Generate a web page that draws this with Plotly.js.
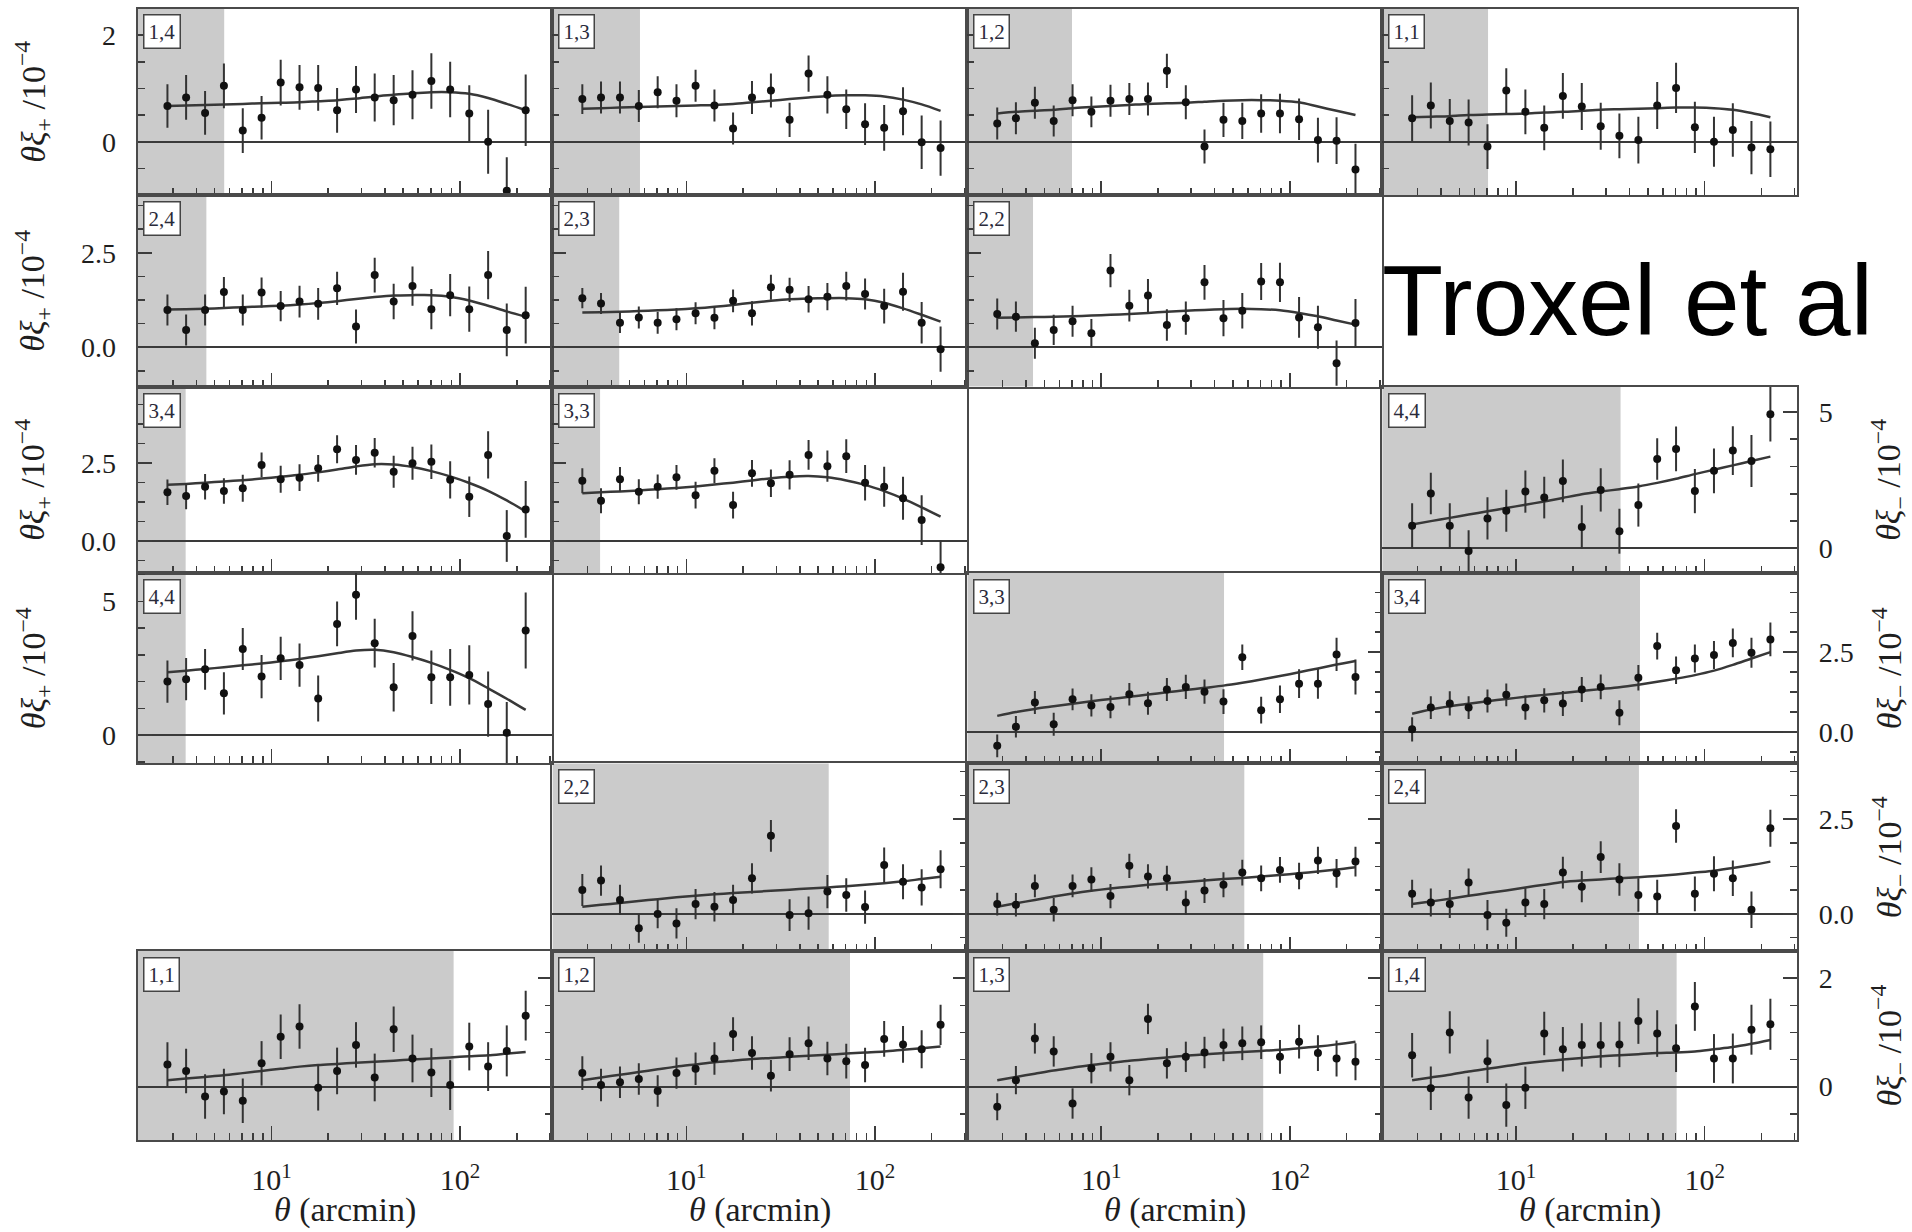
<!DOCTYPE html>
<html>
<head>
<meta charset="utf-8">
<script src="https://cdn.plot.ly/plotly-3.0.1.min.js"></script>
<style>
  html, body { margin: 0; padding: 0; background: #ffffff; }
  #chart { width: 1912px; height: 1232px; }
</style>
</head>
<body>
<div id="chart"></div>
<script>
// Angular bin centres (arcmin), shared by every panel
const theta = [2.81, 3.53, 4.45, 5.60, 7.05, 8.87, 11.2, 14.1, 17.7, 22.3,
               28.1, 35.3, 44.5, 56.0, 70.5, 88.7, 112, 141, 177, 223];

// ---- xi_plus: measurements, 1-sigma errors and best-fit model (units of 1e-4, times theta) ----
const xiP_14  = [0.67, 0.83, 0.54, 1.05, 0.21, 0.45, 1.11, 1.02, 1.01, 0.59, 0.98, 0.83, 0.78, 0.88, 1.14, 0.98, 0.53, 0.00, -0.92, 0.59];
const errP_14 = [0.41, 0.42, 0.41, 0.42, 0.42, 0.41, 0.43, 0.42, 0.43, 0.42, 0.44, 0.45, 0.47, 0.46, 0.52, 0.52, 0.53, 0.60, 0.63, 0.67];
const modP_14 = [0.67, 0.68, 0.69, 0.70, 0.71, 0.72, 0.73, 0.74, 0.76, 0.78, 0.81, 0.85, 0.88, 0.91, 0.93, 0.93, 0.90, 0.82, 0.71, 0.59];

const xiP_13  = [0.80, 0.83, 0.83, 0.67, 0.93, 0.77, 1.05, 0.68, 0.25, 0.83, 0.96, 0.41, 1.28, 0.88, 0.61, 0.33, 0.26, 0.57, -0.01, -0.12];
const errP_13 = [0.28, 0.30, 0.30, 0.30, 0.30, 0.31, 0.30, 0.30, 0.30, 0.31, 0.32, 0.32, 0.34, 0.35, 0.37, 0.39, 0.43, 0.45, 0.50, 0.52];
const modP_13 = [0.62, 0.63, 0.64, 0.65, 0.66, 0.67, 0.68, 0.69, 0.71, 0.74, 0.77, 0.80, 0.83, 0.86, 0.87, 0.87, 0.85, 0.79, 0.70, 0.58];

const xiP_12  = [0.34, 0.44, 0.73, 0.39, 0.78, 0.56, 0.77, 0.80, 0.80, 1.33, 0.74, -0.09, 0.41, 0.39, 0.53, 0.53, 0.42, 0.03, 0.02, -0.52];
const errP_12 = [0.30, 0.30, 0.30, 0.29, 0.30, 0.29, 0.30, 0.30, 0.31, 0.32, 0.32, 0.32, 0.32, 0.34, 0.36, 0.37, 0.39, 0.42, 0.44, 0.48];
const modP_12 = [0.53, 0.56, 0.58, 0.60, 0.63, 0.65, 0.67, 0.69, 0.71, 0.72, 0.73, 0.75, 0.77, 0.78, 0.78, 0.77, 0.74, 0.66, 0.58, 0.50];

const xiP_11  = [0.44, 0.68, 0.39, 0.36, -0.09, 0.96, 0.56, 0.26, 0.86, 0.66, 0.29, 0.11, 0.03, 0.68, 1.01, 0.27, 0.00, 0.22, -0.11, -0.14];
const errP_11 = [0.43, 0.43, 0.41, 0.43, 0.42, 0.42, 0.42, 0.42, 0.43, 0.44, 0.44, 0.42, 0.44, 0.44, 0.47, 0.48, 0.47, 0.50, 0.50, 0.52];
const modP_11 = [0.46, 0.47, 0.48, 0.50, 0.51, 0.52, 0.53, 0.55, 0.56, 0.58, 0.60, 0.61, 0.62, 0.63, 0.64, 0.64, 0.63, 0.60, 0.54, 0.46];

const xiP_24  = [0.99, 0.46, 0.99, 1.46, 0.99, 1.45, 1.09, 1.21, 1.15, 1.56, 0.55, 1.91, 1.21, 1.62, 1.01, 1.38, 1.01, 1.91, 0.46, 0.85];
const errP_24 = [0.41, 0.41, 0.41, 0.40, 0.41, 0.40, 0.40, 0.42, 0.42, 0.44, 0.45, 0.46, 0.47, 0.52, 0.53, 0.56, 0.60, 0.64, 0.70, 0.75];
const modP_24 = [1.00, 1.01, 1.02, 1.04, 1.06, 1.08, 1.10, 1.13, 1.17, 1.22, 1.28, 1.33, 1.37, 1.38, 1.38, 1.34, 1.24, 1.10, 0.95, 0.81];

const xiP_23  = [1.30, 1.16, 0.65, 0.79, 0.65, 0.74, 0.90, 0.78, 1.23, 0.90, 1.59, 1.52, 1.27, 1.34, 1.62, 1.41, 1.09, 1.47, 0.65, -0.05];
const errP_23 = [0.27, 0.28, 0.27, 0.29, 0.29, 0.29, 0.29, 0.30, 0.30, 0.32, 0.33, 0.32, 0.35, 0.36, 0.38, 0.41, 0.46, 0.50, 0.55, 0.60];
const modP_23 = [0.92, 0.93, 0.94, 0.96, 0.98, 1.00, 1.03, 1.07, 1.12, 1.18, 1.23, 1.27, 1.29, 1.30, 1.30, 1.27, 1.18, 1.03, 0.86, 0.68];

const xiP_22  = [0.88, 0.81, 0.11, 0.46, 0.69, 0.37, 2.03, 1.10, 1.37, 0.59, 0.77, 1.72, 0.77, 0.97, 1.74, 1.72, 0.79, 0.53, -0.42, 0.64];
const errP_22 = [0.41, 0.40, 0.41, 0.40, 0.41, 0.38, 0.44, 0.42, 0.44, 0.42, 0.44, 0.46, 0.48, 0.47, 0.49, 0.52, 0.54, 0.57, 0.60, 0.64];
const modP_22 = [0.78, 0.79, 0.80, 0.81, 0.82, 0.84, 0.86, 0.88, 0.91, 0.94, 0.97, 0.99, 1.01, 1.02, 1.01, 0.98, 0.91, 0.82, 0.71, 0.60];

const xiP_34  = [1.56, 1.44, 1.74, 1.60, 1.69, 2.44, 1.98, 2.03, 2.33, 2.94, 2.60, 2.83, 2.22, 2.49, 2.54, 1.96, 1.42, 2.76, 0.16, 1.01];
const errP_34 = [0.41, 0.42, 0.41, 0.41, 0.43, 0.40, 0.43, 0.43, 0.43, 0.45, 0.48, 0.47, 0.51, 0.53, 0.55, 0.60, 0.65, 0.76, 0.83, 0.91];
const modP_34 = [1.80, 1.83, 1.87, 1.91, 1.95, 2.00, 2.06, 2.12, 2.20, 2.29, 2.39, 2.46, 2.45, 2.37, 2.24, 2.07, 1.86, 1.61, 1.30, 0.95];

const xiP_33  = [1.93, 1.29, 1.98, 1.58, 1.74, 2.04, 1.47, 2.25, 1.15, 2.17, 1.85, 2.12, 2.76, 2.40, 2.72, 1.87, 1.74, 1.37, 0.67, -0.84];
const errP_33 = [0.40, 0.40, 0.39, 0.40, 0.39, 0.40, 0.43, 0.40, 0.43, 0.43, 0.44, 0.47, 0.48, 0.50, 0.54, 0.57, 0.64, 0.69, 0.80, 0.85];
const modP_33 = [1.53, 1.56, 1.59, 1.62, 1.66, 1.70, 1.75, 1.81, 1.87, 1.94, 2.01, 2.06, 2.08, 2.04, 1.94, 1.80, 1.60, 1.36, 1.08, 0.78];

const xiP_44  = [2.00, 2.09, 2.46, 1.56, 3.22, 2.19, 2.87, 2.62, 1.37, 4.16, 5.25, 3.44, 1.79, 3.71, 2.16, 2.16, 2.25, 1.16, 0.09, 3.91];
const errP_44 = [0.79, 0.79, 0.76, 0.79, 0.79, 0.81, 0.81, 0.81, 0.86, 0.84, 0.94, 0.91, 0.91, 0.92, 1.00, 1.06, 1.11, 1.22, 1.15, 1.42];
const modP_44 = [2.35, 2.41, 2.47, 2.54, 2.61, 2.68, 2.76, 2.85, 2.95, 3.06, 3.16, 3.19, 3.10, 2.92, 2.70, 2.44, 2.13, 1.75, 1.36, 0.94];

// ---- xi_minus ----
const xiM_44  = [0.83, 2.01, 0.83, -0.09, 1.10, 1.38, 2.08, 1.86, 2.47, 0.79, 2.14, 0.63, 1.59, 3.27, 3.64, 2.10, 2.84, 3.58, 3.20, 4.91];
const errM_44 = [0.82, 0.76, 0.82, 0.76, 0.77, 0.77, 0.77, 0.76, 0.78, 0.79, 0.79, 0.82, 0.79, 0.76, 0.82, 0.81, 0.82, 0.89, 0.95, 1.00];
const modM_44 = [0.88, 1.00, 1.12, 1.24, 1.36, 1.48, 1.60, 1.72, 1.85, 1.98, 2.08, 2.17, 2.27, 2.40, 2.55, 2.72, 2.88, 3.04, 3.20, 3.36];

const xiM_33  = [-0.44, 0.16, 0.92, 0.24, 1.02, 0.83, 0.78, 1.18, 0.90, 1.33, 1.41, 1.26, 0.95, 2.34, 0.68, 1.02, 1.51, 1.51, 2.43, 1.72];
const errM_33 = [0.36, 0.34, 0.36, 0.36, 0.34, 0.35, 0.35, 0.35, 0.36, 0.36, 0.38, 0.38, 0.39, 0.40, 0.42, 0.43, 0.45, 0.47, 0.52, 0.55];
const modM_33 = [0.50, 0.62, 0.72, 0.80, 0.88, 0.96, 1.03, 1.10, 1.17, 1.24, 1.31, 1.38, 1.45, 1.54, 1.64, 1.75, 1.87, 1.99, 2.11, 2.22];

const xiM_34  = [0.08, 0.76, 0.89, 0.76, 0.97, 1.16, 0.76, 0.99, 0.89, 1.33, 1.41, 0.60, 1.70, 2.69, 1.93, 2.30, 2.41, 2.79, 2.48, 2.90];
const errM_34 = [0.38, 0.36, 0.38, 0.36, 0.36, 0.36, 0.38, 0.38, 0.39, 0.39, 0.39, 0.39, 0.40, 0.42, 0.43, 0.44, 0.44, 0.45, 0.47, 0.53];
const modM_34 = [0.57, 0.70, 0.80, 0.88, 0.96, 1.03, 1.10, 1.16, 1.22, 1.28, 1.34, 1.40, 1.48, 1.57, 1.67, 1.78, 1.92, 2.10, 2.30, 2.50];

const xiM_22  = [0.63, 0.88, 0.37, -0.38, 0.00, -0.25, 0.26, 0.19, 0.37, 0.94, 2.06, -0.03, 0.02, 0.59, 0.50, 0.18, 1.29, 0.85, 0.70, 1.18];
const errM_22 = [0.42, 0.40, 0.40, 0.38, 0.38, 0.40, 0.40, 0.39, 0.40, 0.40, 0.42, 0.42, 0.44, 0.44, 0.44, 0.44, 0.46, 0.46, 0.48, 0.50];
const modM_22 = [0.19, 0.24, 0.29, 0.34, 0.39, 0.44, 0.48, 0.52, 0.55, 0.58, 0.61, 0.64, 0.67, 0.70, 0.73, 0.77, 0.81, 0.86, 0.92, 0.98];

const xiM_23  = [0.26, 0.24, 0.74, 0.11, 0.74, 0.91, 0.47, 1.27, 0.99, 0.94, 0.30, 0.62, 0.77, 1.09, 0.94, 1.16, 1.00, 1.41, 1.07, 1.38];
const errM_23 = [0.30, 0.31, 0.30, 0.31, 0.30, 0.32, 0.32, 0.32, 0.32, 0.33, 0.32, 0.33, 0.33, 0.34, 0.34, 0.34, 0.35, 0.36, 0.38, 0.39];
const modM_23 = [0.19, 0.28, 0.37, 0.46, 0.54, 0.61, 0.67, 0.72, 0.77, 0.81, 0.84, 0.88, 0.92, 0.95, 0.99, 1.03, 1.07, 1.12, 1.17, 1.23];

const xiM_24  = [0.53, 0.30, 0.26, 0.83, -0.03, -0.23, 0.30, 0.26, 1.09, 0.72, 1.50, 0.91, 0.50, 0.46, 2.32, 0.53, 1.06, 0.94, 0.11, 2.26];
const errM_24 = [0.37, 0.37, 0.37, 0.37, 0.40, 0.37, 0.38, 0.40, 0.42, 0.41, 0.42, 0.43, 0.44, 0.44, 0.44, 0.46, 0.46, 0.47, 0.48, 0.49];
const modM_24 = [0.26, 0.33, 0.40, 0.48, 0.55, 0.62, 0.70, 0.77, 0.84, 0.88, 0.91, 0.94, 0.97, 1.00, 1.04, 1.09, 1.14, 1.21, 1.29, 1.38];

const xiM_11  = [0.41, 0.29, -0.18, -0.09, -0.26, 0.43, 0.92, 1.11, -0.02, 0.29, 0.77, 0.17, 1.06, 0.52, 0.26, 0.03, 0.74, 0.37, 0.66, 1.31];
const errM_11 = [0.41, 0.41, 0.41, 0.42, 0.41, 0.41, 0.41, 0.41, 0.42, 0.43, 0.42, 0.44, 0.42, 0.44, 0.45, 0.46, 0.44, 0.45, 0.47, 0.46];
const modM_11 = [0.12, 0.15, 0.18, 0.21, 0.25, 0.29, 0.33, 0.37, 0.40, 0.42, 0.44, 0.46, 0.48, 0.50, 0.52, 0.54, 0.56, 0.58, 0.61, 0.64];

const xiM_12  = [0.25, 0.03, 0.08, 0.14, -0.08, 0.25, 0.33, 0.52, 0.97, 0.62, 0.20, 0.60, 0.80, 0.52, 0.47, 0.40, 0.88, 0.78, 0.69, 1.14];
const errM_12 = [0.31, 0.30, 0.29, 0.29, 0.29, 0.29, 0.30, 0.30, 0.31, 0.31, 0.29, 0.31, 0.31, 0.31, 0.32, 0.32, 0.33, 0.34, 0.35, 0.37];
const modM_12 = [0.12, 0.17, 0.22, 0.27, 0.32, 0.37, 0.41, 0.45, 0.48, 0.51, 0.53, 0.55, 0.57, 0.59, 0.61, 0.63, 0.65, 0.68, 0.71, 0.74];

const xiM_13  = [-0.37, 0.12, 0.89, 0.65, -0.31, 0.34, 0.55, 0.12, 1.25, 0.43, 0.55, 0.63, 0.77, 0.80, 0.82, 0.55, 0.83, 0.62, 0.52, 0.46];
const errM_13 = [0.25, 0.26, 0.28, 0.28, 0.28, 0.28, 0.27, 0.28, 0.28, 0.28, 0.28, 0.29, 0.30, 0.31, 0.31, 0.31, 0.31, 0.33, 0.33, 0.34];
const modM_13 = [0.12, 0.18, 0.24, 0.30, 0.35, 0.40, 0.44, 0.48, 0.51, 0.54, 0.57, 0.60, 0.62, 0.64, 0.66, 0.68, 0.71, 0.74, 0.78, 0.83];

const xiM_14  = [0.58, -0.03, 1.00, -0.20, 0.47, -0.34, -0.02, 0.98, 0.69, 0.77, 0.77, 0.78, 1.21, 0.98, 0.71, 1.48, 0.52, 0.52, 1.05, 1.15];
const errM_14 = [0.41, 0.40, 0.39, 0.39, 0.40, 0.40, 0.39, 0.40, 0.41, 0.40, 0.42, 0.42, 0.42, 0.43, 0.44, 0.45, 0.45, 0.46, 0.46, 0.47];
const modM_14 = [0.12, 0.17, 0.22, 0.28, 0.33, 0.38, 0.43, 0.47, 0.50, 0.53, 0.56, 0.58, 0.60, 0.62, 0.63, 0.65, 0.69, 0.73, 0.79, 0.86];

// Panel order: row by row, left to right
const panelLabels = ['1,4', '1,3', '1,2', '1,1',
                     '2,4', '2,3', '2,2',
                     '3,4', '3,3', '4,4',
                     '4,4', '3,3', '3,4',
                     '2,2', '2,3', '2,4',
                     '1,1', '1,2', '1,3', '1,4'];
// Small-scale cut per panel (arcmin); everything left of it is shaded
const scaleCuts = [5.62, 5.68, 7.0, 7.1,
                   4.52, 4.41, 4.35,
                   3.51, 3.49, 35.8,
                   3.51, 44.8, 45.4,
                   56.9, 57.4, 44.8,
                   92.5, 73.8, 72.3, 71.0];
const panelValues = [xiP_14, xiP_13, xiP_12, xiP_11, xiP_24, xiP_23, xiP_22, xiP_34, xiP_33, xiM_44,
                     xiP_44, xiM_33, xiM_34, xiM_22, xiM_23, xiM_24, xiM_11, xiM_12, xiM_13, xiM_14];
const panelErrors = [errP_14, errP_13, errP_12, errP_11, errP_24, errP_23, errP_22, errP_34, errP_33, errM_44,
                     errP_44, errM_33, errM_34, errM_22, errM_23, errM_24, errM_11, errM_12, errM_13, errM_14];
const panelModels = [modP_14, modP_13, modP_12, modP_11, modP_24, modP_23, modP_22, modP_34, modP_33, modM_44,
                     modP_44, modM_33, modM_34, modM_22, modM_23, modM_24, modM_11, modM_12, modM_13, modM_14];

const xTickVals = [10, 100];
const xTickText = ['10<sup>1</sup>', '10<sup>2</sup>'];
const xMinorVals = [3, 4, 5, 6, 7, 8, 9, 20, 30, 40, 50, 60, 70, 80, 90, 200, 300];

// ---------------- layout geometry ----------------
const W = 1912, H = 1232;
const colEdges = [137.5, 552.4, 967.3, 1382.2, 1797.1];
const rowEdges = [8.5, 195.0, 386.6, 573.1, 763.4, 951.1, 1140.1];
const X_RANGE_LOG = [0.29, 2.49];

// y-axis set-ups: range, major step, minor step, tick format
const yA1 = { range: [-1.0, 2.5],   dtick: 2,   minor: 0.5,   fmt: '' };
const yB2 = { range: [-1.04, 4.03], dtick: 2.5, minor: 0.625, fmt: '.1f' };
const yB3 = { range: [-1.03, 4.95], dtick: 2.5, minor: 0.625, fmt: '.1f' };
const yC3 = { range: [-0.90, 5.92], dtick: 5,   minor: 1,     fmt: '' };
const yC4 = { range: [-1.06, 6.06], dtick: 5,   minor: 1,     fmt: '' };
const yB4 = { range: [-0.99, 4.98], dtick: 2.5, minor: 0.625, fmt: '.1f' };
const yB5 = { range: [-0.98, 3.97], dtick: 2.5, minor: 0.625, fmt: '.1f' };
const yA6 = { range: [-0.985, 2.5], dtick: 2,   minor: 0.5,   fmt: '' };

// [row, column, 'p' = xi_plus (left axis) | 'm' = xi_minus (right axis), y set-up]
const slots = [
  [0, 0, 'p', yA1], [0, 1, 'p', yA1], [0, 2, 'p', yA1], [0, 3, 'p', yA1],
  [1, 0, 'p', yB2], [1, 1, 'p', yB2], [1, 2, 'p', yB2],
  [2, 0, 'p', yB3], [2, 1, 'p', yB3], [2, 3, 'm', yC3],
  [3, 0, 'p', yC4], [3, 2, 'm', yB4], [3, 3, 'm', yB4],
  [4, 1, 'm', yB5], [4, 2, 'm', yB5], [4, 3, 'm', yB5],
  [5, 0, 'm', yA6], [5, 1, 'm', yA6], [5, 2, 'm', yA6], [5, 3, 'm', yA6]
];

const SERIF = '"Liberation Serif", "Times New Roman", serif';
const FRAME = '#4a4a4a';
const TICK = '#3c3c3c';
const INK = '#1e1e1e';

const traces = [];
const shapes = [];
const annotations = [];
const layout = {
  width: W, height: H,
  margin: { l: 0, r: 0, t: 0, b: 0 },
  paper_bgcolor: '#ffffff',
  plot_bgcolor: '#ffffff',
  showlegend: false,
  font: { family: SERIF, color: INK }
};

slots.forEach(function (slot, i) {
  const row = slot[0], col = slot[1], kind = slot[2], ys = slot[3];
  const n = i + 1;
  const xa = n === 1 ? 'x' : 'x' + n;
  const ya = n === 1 ? 'y' : 'y' + n;
  const xKey = n === 1 ? 'xaxis' : 'xaxis' + n;
  const yKey = n === 1 ? 'yaxis' : 'yaxis' + n;

  layout[xKey] = {
    type: 'log', range: X_RANGE_LOG,
    domain: [colEdges[col] / W, colEdges[col + 1] / W],
    anchor: ya,
    showline: true, linecolor: FRAME, linewidth: 2, mirror: true,
    showgrid: false, zeroline: false,
    ticks: 'inside', ticklen: 14, tickwidth: 1.5, tickcolor: TICK,
    tickmode: 'array', tickvals: xTickVals, ticktext: xTickText,
    showticklabels: row === 5,
    ticklabelstandoff: 12,
    tickfont: { family: SERIF, size: 30, color: INK },
    minor: { tickmode: 'array', tickvals: xMinorVals, ticks: 'inside', ticklen: 7, tickwidth: 1.5, tickcolor: TICK },
    fixedrange: true
  };

  const showY = (kind === 'p' && col === 0) || (kind === 'm' && col === 3);
  layout[yKey] = {
    range: ys.range,
    domain: [1 - rowEdges[row + 1] / H, 1 - rowEdges[row] / H],
    anchor: xa,
    side: kind === 'm' ? 'right' : 'left',
    showline: true, linecolor: FRAME, linewidth: 2, mirror: true,
    showgrid: false,
    zeroline: true, zerolinecolor: '#3a3a3a', zerolinewidth: 2,
    ticks: 'inside', ticklen: 14, tickwidth: 1.5, tickcolor: TICK,
    tick0: 0, dtick: ys.dtick, tickformat: ys.fmt,
    showticklabels: showY,
    ticklabelstandoff: 14,
    tickfont: { family: SERIF, size: 28, color: INK },
    minor: { tick0: 0, dtick: ys.minor, ticks: 'inside', ticklen: 7, tickwidth: 1.5, tickcolor: TICK },
    fixedrange: true
  };

  // shaded region of excluded small scales
  shapes.push({
    type: 'rect', layer: 'below',
    xref: xa, yref: ya + ' domain',
    x0: Math.pow(10, X_RANGE_LOG[0]), x1: scaleCuts[i], y0: 0, y1: 1,
    fillcolor: '#cbcbcb', line: { width: 0 }
  });

  // best-fit model
  traces.push({
    x: theta, y: panelModels[i], xaxis: xa, yaxis: ya,
    type: 'scatter', mode: 'lines',
    line: { color: '#383838', width: 2.5, shape: 'spline', smoothing: 0.8 },
    hoverinfo: 'skip'
  });

  // measurements with error bars
  traces.push({
    x: theta, y: panelValues[i], xaxis: xa, yaxis: ya,
    type: 'scatter', mode: 'markers',
    marker: { color: '#111111', size: 8 },
    error_y: { type: 'data', array: panelErrors[i], visible: true, color: '#333333', thickness: 2, width: 0 }
  });

  // bin-pair tag in the upper left corner
  annotations.push({
    xref: xa + ' domain', yref: ya + ' domain',
    x: 0.013, y: 0.968, xanchor: 'left', yanchor: 'top',
    text: panelLabels[i], showarrow: false,
    font: { family: SERIF, size: 21, color: '#2a2a3a' },
    bgcolor: '#ffffff', bordercolor: '#444444', borderwidth: 1.5, borderpad: 4
  });
});

// axis titles
const xiPlusTitle = '<i>θξ</i><sub>+</sub> /10<sup>−4</sup>';
const xiMinusTitle = '<i>θξ</i><sub>−</sub> /10<sup>−4</sup>';
[0, 1, 2, 3].forEach(function (row) {
  annotations.push({
    xref: 'paper', yref: 'paper',
    x: 33 / W, y: 1 - (rowEdges[row] + rowEdges[row + 1]) / 2 / H,
    xanchor: 'center', yanchor: 'middle', textangle: -90,
    text: xiPlusTitle, showarrow: false,
    font: { family: SERIF, size: 34, color: INK }
  });
});
[2, 3, 4, 5].forEach(function (row) {
  annotations.push({
    xref: 'paper', yref: 'paper',
    x: 1889 / W, y: 1 - (rowEdges[row] + rowEdges[row + 1]) / 2 / H,
    xanchor: 'center', yanchor: 'middle', textangle: -90,
    text: xiMinusTitle, showarrow: false,
    font: { family: SERIF, size: 34, color: INK }
  });
});
[0, 1, 2, 3].forEach(function (col) {
  annotations.push({
    xref: 'paper', yref: 'paper',
    x: (colEdges[col] + colEdges[col + 1]) / 2 / W, y: 1 - 1210 / H,
    xanchor: 'center', yanchor: 'middle',
    text: '<i>θ</i> (arcmin)', showarrow: false,
    font: { family: SERIF, size: 34, color: INK }
  });
});

// attribution text in the free slot
annotations.push({
  xref: 'paper', yref: 'paper',
  x: 1380 / W, y: 1 - 300 / H,
  xanchor: 'left', yanchor: 'middle',
  text: 'Troxel et al', showarrow: false,
  font: { family: '"Liberation Sans", Arial, sans-serif', size: 100, color: '#000000' }
});

layout.shapes = shapes;
layout.annotations = annotations;

Plotly.newPlot('chart', traces, layout, { displayModeBar: false, staticPlot: true });
</script>
</body>
</html>
